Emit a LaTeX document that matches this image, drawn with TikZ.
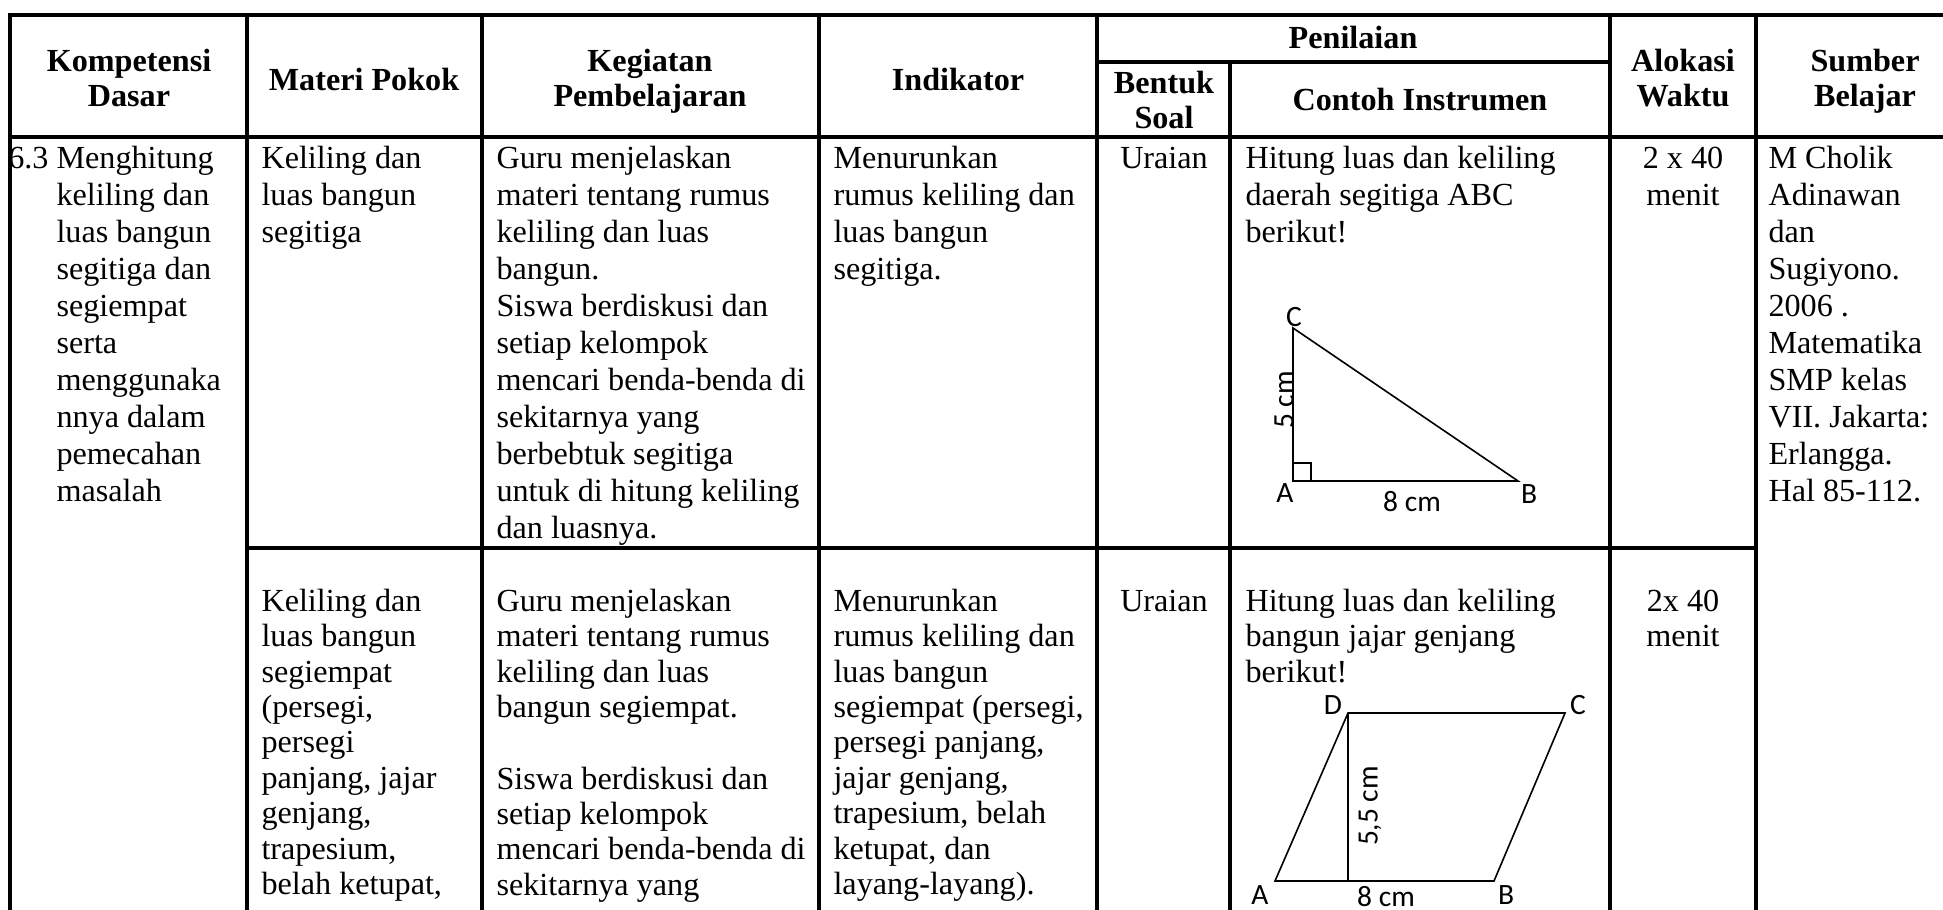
\documentclass[tikz,border=0pt]{standalone}
\usepackage{fontspec}
\setmainfont{Liberation Serif}
\newfontfamily\figfont{Carlito}
\tikzset{
  cell/.style={anchor=north west,align=left,inner sep=0pt,font=\fontsize{12}{13.8}\selectfont},
  midcell/.style={anchor=north,align=center,inner sep=0pt,font=\fontsize{12}{13.8}\selectfont},
  cellb/.style={cell,font=\fontsize{12}{13.2}\selectfont},
  midcellb/.style={midcell,font=\fontsize{12}{13.2}\selectfont},
  head/.style={anchor=north,align=center,inner sep=0pt,font=\fontsize{12}{13}\selectfont\bfseries},
  rule/.style={line width=1.4pt,line cap=rect},
  fig/.style={line width=0.6pt},
  lbl/.style={inner sep=0pt,font=\figfont\fontsize{11}{13}\selectfont},
}

\begin{document}
\begin{tikzpicture}[x=0.373pt,y=-0.373pt]
\useasboundingbox (0,0) rectangle (1943,910);
\fill[white] (0,0) rectangle (1943,910);
\clip (0,0) rectangle (1943,910);

%header row
\node[head] (kd) at (129,47) {\strut Kompetensi\\Dasar};
\node[head] (mp) at (364,66) {\strut Materi Pokok};
\node[head] (kp) at (650,47) {\strut Kegiatan\\Pembelajaran};
\node[head] (ind) at (958,66) {\strut Indikator};
\node[head] (pen) at (1353,24) {\strut Penilaian};
\node[head] (bs) at (1164,69) {\strut Bentuk\\Soal};
\node[head] (ci) at (1420,86) {\strut Contoh Instrumen};
\node[head] (aw) at (1683,47) {\strut Alokasi\\Waktu};
\node[head] (sb) at (1865,47) {\strut Sumber\\Belajar};

%first row (segitiga)
\node[cell] (kd1) at (56,142) {\strut\llap{6.3\ }Menghitung\\keliling dan\\luas bangun\\segitiga dan\\segiempat\\serta\\menggunaka\\nnya dalam\\pemecahan\\masalah};
\node[cell] (mp1) at (261,142) {\strut Keliling dan\\luas bangun\\segitiga};
\node[cell] (kp1) at (496,142) {\strut Guru menjelaskan\\materi tentang rumus\\keliling dan luas\\bangun.\\Siswa berdiskusi dan\\setiap kelompok\\mencari benda-benda di\\sekitarnya yang\\berbebtuk segitiga\\untuk di hitung keliling\\dan luasnya.};
\node[cell] (ind1) at (833,142) {\strut Menurunkan\\rumus keliling dan\\luas bangun\\segitiga.};
\node[midcell] (bs1) at (1164,142) {\strut Uraian};
\node[cell] (ci1) at (1245,142) {\strut Hitung luas dan keliling\\daerah segitiga ABC\\berikut!};
\node[midcell] (aw1) at (1683,142) {\strut 2 x 40\\menit};
\node[cell] (sb1) at (1768,142) {\strut M Cholik\\Adinawan\\dan\\Sugiyono.\\2006 .\\Matematika\\SMP kelas\\VII. Jakarta:\\Erlangga.\\Hal 85-112.};

%second row (segiempat)
\node[cellb] (mp2) at (261,586) {\strut Keliling dan\\luas bangun\\segiempat\\(persegi,\\persegi\\panjang, jajar\\genjang,\\trapesium,\\belah ketupat,};
\node[cellb] (kp2) at (496,586) {\strut Guru menjelaskan\\materi tentang rumus\\keliling dan luas\\bangun segiempat.\\[13.5pt]Siswa berdiskusi dan\\setiap kelompok\\mencari benda-benda di\\sekitarnya yang};
\node[cellb] (ind2) at (833,586) {\strut Menurunkan\\rumus keliling dan\\luas bangun\\segiempat (persegi,\\persegi panjang,\\jajar genjang,\\trapesium, belah\\ketupat, dan\\layang-layang).};
\node[midcellb] (bs2) at (1164,586) {\strut Uraian};
\node[cellb] (ci2) at (1245,586) {\strut Hitung luas dan keliling\\bangun jajar genjang\\berikut!};
\node[midcellb] (aw2) at (1683,586) {\strut 2x 40\\menit};

%triangle ABC
\coordinate (tA) at (1293,481);
\coordinate (tB) at (1518,481);
\coordinate (tC) at (1293,328);
\draw[fig] (tA) -- (tB) -- (tC) -- cycle;
\draw[fig] (tA) rectangle ++(18,-18);
\node[lbl] (tlC) at (1294,317) {C};
\node[lbl] (tlA) at (1285,493) {A};
\node[lbl] (tlB) at (1529,494) {B};
\node[lbl] (tlab) at (1412,502) {8 cm};
\node[lbl,rotate=90] (tlac) at (1284,400) {5 cm};

%parallelogram ABCD
\coordinate (pA) at (1275,881);
\coordinate (pB) at (1494,881);
\coordinate (pC) at (1565,713);
\coordinate (pD) at (1348,713);
\draw[fig] (pA) -- (pB) -- (pC) -- (pD) -- cycle;
\draw[fig] (pD) -- (pD |- pA);
\node[lbl] (plD) at (1333,705) {D};
\node[lbl] (plC) at (1578,705) {C};
\node[lbl] (plA) at (1260,895) {A};
\node[lbl] (plB) at (1506,895) {B};
\node[lbl] (plab) at (1386,897) {8 cm};
\node[lbl,rotate=90] (plh) at (1370,806) {5,5 cm};

%table rules
\draw[rule] (10,15) -- (1943,15);
\draw[rule] (10,137) -- (1943,137);
\draw[rule] (1097,62) -- (1610,62);
\draw[rule] (247,548) -- (1756,548);
\foreach \x in {10,247,482,819,1097,1610,1756}
  \draw[rule] (\x,15) -- (\x,915);
\draw[rule] (1230,62) -- (1230,915);
\end{tikzpicture}
\end{document}
